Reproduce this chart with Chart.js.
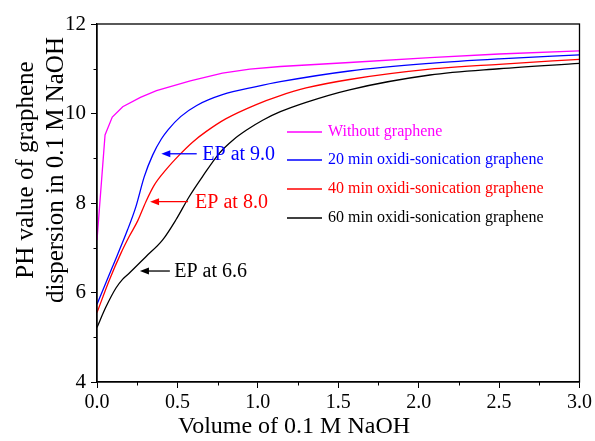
<!DOCTYPE html>
<html><head><meta charset="utf-8">
<script src="https://cdn.jsdelivr.net/npm/chart.js@4/dist/chart.umd.min.js"></script>
<style>html,body{margin:0;padding:0;background:#fff}#wrap{width:595px;height:441px;position:relative}</style>
</head><body><div id="wrap"><canvas id="c" width="595" height="441"></canvas></div>
<script>
// ---- data ----
const labels = ["Without graphene","20 min oxidi-sonication graphene","40 min oxidi-sonication graphene","60 min oxidi-sonication graphene"];
const colors = ["#ff00ff","#0000ff","#ff0000","#000000"];
const xMag = [0,0.05,0.095,0.16,0.27,0.37,0.58,0.78,0.95,1.14,1.57,2.07,2.5,3.0];
const yMag = [7.17,9.52,9.92,10.15,10.36,10.51,10.73,10.9,10.99,11.05,11.14,11.25,11.33,11.40];
const x20 = [0,0.097,0.19,0.242,0.294,0.346,0.40,0.443,0.52,0.62,0.78,0.99,1.14,1.57,2.07,2.5,3.0];
const y20 = [5.74,6.58,7.40,7.92,8.59,9.07,9.43,9.64,9.93,10.18,10.42,10.6,10.71,10.95,11.12,11.22,11.31];
const x40 = [0,0.077,0.149,0.2,0.253,0.304,0.356,0.428,0.511,0.594,0.68,0.8,0.99,1.14,1.3,1.57,2.07,2.5,3.0];
const y40 = [5.55,6.28,6.88,7.25,7.6,8.03,8.40,8.74,9.07,9.36,9.6,9.88,10.2,10.4,10.57,10.76,10.99,11.1,11.21];
const x60 = [0,0.056,0.118,0.16,0.2,0.304,0.407,0.49,0.573,0.656,0.76,0.85,0.93,1.03,1.14,1.3,1.57,2.07,2.5,3.0];
const y60 = [5.22,5.68,6.10,6.3,6.43,6.80,7.17,7.62,8.14,8.59,9.11,9.42,9.63,9.85,10.04,10.25,10.53,10.86,11.0,11.12];
const xTicks = [0,0.5,1.0,1.5,2.0,2.5,3.0];
const yTicks = [4,6,8,10,12];
const xMinor = [0.25,0.75,1.25,1.75,2.25,2.75];
const yMinor = [5,7,9,11];
// annotations
const epText = ["EP at 9.0","EP at 8.0","EP at 6.6"];
const epHeadX = [0.40,0.33,0.267];
const epTailX = [0.62,0.566,0.453];
const epY = [9.1,8.03,6.48];
const epTextX = [0.655,0.61,0.48];
const epColor = ["#0000ff","#ff0000","#000000"];
const xTitle = "Volume of 0.1 M NaOH";
const yTitle = ["PH value of graphene","dispersion in 0.1 M NaOH"];

const zip = (xs, ys) => xs.map((x,i)=>({x:x,y:ys[i]}));
const series = [zip(xMag,yMag), zip(x20,y20), zip(x40,y40), zip(x60,y60)];
const FONT = "'Liberation Serif', 'Times New Roman', serif";

const extras = {
  id:'extras',
  afterDraw(chart){
    const ctx = chart.ctx, a = chart.chartArea;
    const xs = chart.scales.x, ys = chart.scales.y;
    ctx.save();
    ctx.strokeStyle='#000'; ctx.lineWidth=1.3;
    ctx.strokeRect(a.left, a.top, a.right-a.left, a.bottom-a.top);
    ctx.lineWidth=1;
    ctx.beginPath();
    xMinor.forEach(v=>{const p=Math.round(xs.getPixelForValue(v))+0.5; ctx.moveTo(p,a.bottom); ctx.lineTo(p,a.bottom+3.5);});
    yMinor.forEach(v=>{const p=Math.round(ys.getPixelForValue(v))+0.5; ctx.moveTo(a.left,p); ctx.lineTo(a.left-3.5,p);});
    ctx.stroke();
    ctx.font = "16px "+FONT;
    ctx.textBaseline='middle';
    const rows=[132,160,189,218];
    labels.forEach((t,i)=>{
      ctx.strokeStyle=colors[i]; ctx.fillStyle=colors[i]; ctx.lineWidth=1.3;
      ctx.beginPath(); ctx.moveTo(287,rows[i]); ctx.lineTo(322,rows[i]); ctx.stroke();
      ctx.fillText(t,328,rows[i]);
    });
    ctx.font = "20px "+FONT;
    epText.forEach((t,i)=>{
      const hx=xs.getPixelForValue(epHeadX[i]), tx=xs.getPixelForValue(epTailX[i]), y=ys.getPixelForValue(epY[i]);
      ctx.strokeStyle=epColor[i]; ctx.fillStyle=epColor[i]; ctx.lineWidth=1.3;
      ctx.beginPath(); ctx.moveTo(tx,y); ctx.lineTo(hx+6,y); ctx.stroke();
      ctx.beginPath(); ctx.moveTo(hx,y); ctx.lineTo(hx+9,y-3.5); ctx.lineTo(hx+9,y+3.5); ctx.closePath(); ctx.fill();
      ctx.fillText(t, xs.getPixelForValue(epTextX[i]), y+1);
    });
    ctx.fillStyle='#000';
    ctx.textAlign='center'; ctx.textBaseline='alphabetic';
    ctx.font="24px "+FONT;
    ctx.fillText(xTitle, 294, 433);
    ctx.font="25px "+FONT;
    ctx.translate(0,170); ctx.rotate(-Math.PI/2);
    ctx.fillText(yTitle[0], 0, 33);
    ctx.fillText(yTitle[1], 0, 63);
    ctx.restore();
  }
};

new Chart(document.getElementById('c'), {
  type:'line',
  data:{datasets: series.map((d,i)=>({label:labels[i], data:d, borderColor:colors[i], backgroundColor:colors[i], borderWidth:1.3, pointRadius:0, fill:false,
    tension: i===0 ? 0 : 0.4, cubicInterpolationMode: i===0 ? 'default' : 'monotone'}))},
  options:{
    responsive:false, animation:false, devicePixelRatio:1,
    layout:{padding:{left:0,top:24,right:15,bottom:0}},
    plugins:{legend:{display:false}, tooltip:{enabled:false}},
    scales:{
      x:{type:'linear', min:0, max:3,
        afterBuildTicks(s){ s.ticks = xTicks.map(v=>({value:v})); },
        afterFit(s){ s.height=59; },
        grid:{display:true, drawOnChartArea:false, drawTicks:true, tickLength:6, color:'#000', lineWidth:1},
        border:{display:true, color:'#000', width:1.3},
        ticks:{color:'#000', padding:3, maxRotation:0, font:{family:FONT, size:20}, callback:v=>v.toFixed(1)}
      },
      y:{type:'linear', min:4, max:12,
        afterBuildTicks(s){ s.ticks = yTicks.map(v=>({value:v})); },
        afterFit(s){ s.width=97; },
        grid:{display:true, drawOnChartArea:false, drawTicks:true, tickLength:6, color:'#000', lineWidth:1},
        border:{display:true, color:'#000', width:1.3},
        ticks:{color:'#000', padding:5, font:{family:FONT, size:21}, callback:v=>String(v)}
      }
    }
  },
  plugins:[extras]
});
</script></body></html>
